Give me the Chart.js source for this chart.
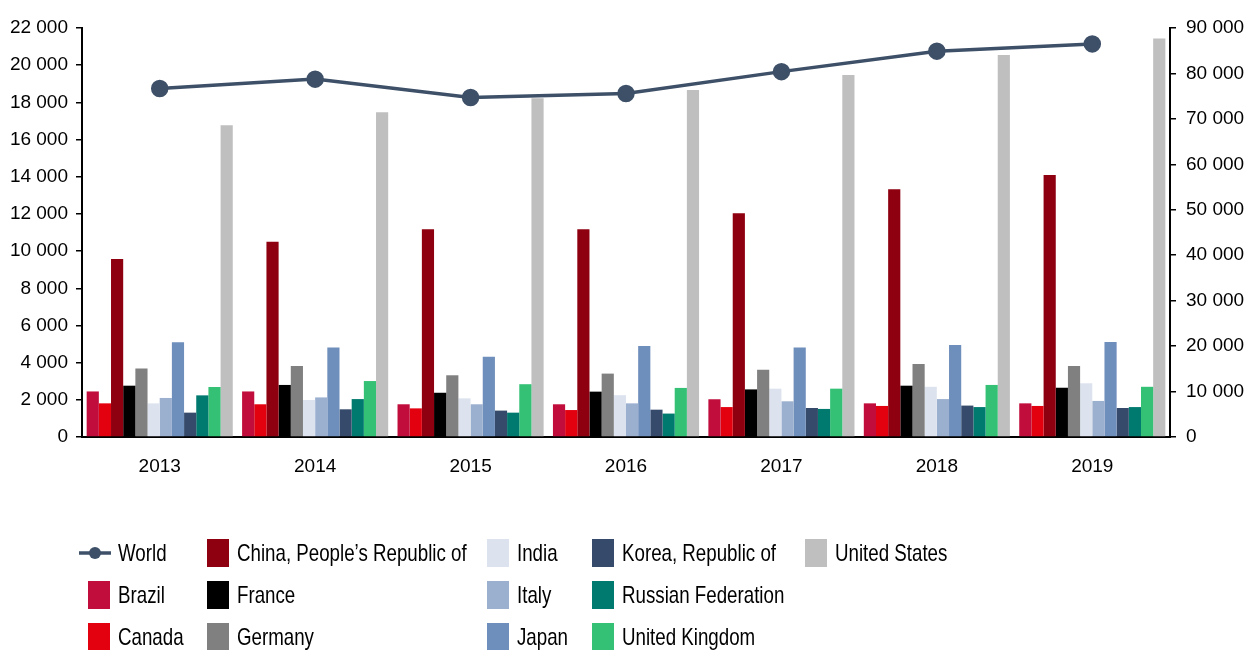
<!DOCTYPE html>
<html>
<head>
<meta charset="utf-8">
<script src="https://cdn.jsdelivr.net/npm/chart.js@4"></script>
<style>
  body { margin: 0; background: #fff; }
  #wrap { position: relative; width: 1246px; height: 650px; }
  #box { position: absolute; left: 0; top: 0; width: 1246px; height: 490px; }
  #legend { position: absolute; left: 0; top: 0; width: 1246px; height: 650px; pointer-events: none;
    font-family: 'Liberation Sans', Arial, sans-serif; font-size: 24px; color: #000; }
  .item { position: absolute; height: 30px; display: flex; align-items: center; white-space: nowrap; }
  .sw { width: 22px; height: 28px; margin-right: 8px; flex: none; }
  .txt { display: inline-block; transform: scaleX(0.78); transform-origin: left center; }
</style>
</head>
<body>
<div id="wrap">
  <div id="box"><canvas id="chart"></canvas></div>
  <div id="legend"></div>
</div>
<script>
(function() {
  'use strict';
  var years = ['2013', '2014', '2015', '2016', '2017', '2018', '2019'];

  // world total, right axis
  var world = [76700, 78750, 74700, 75600, 80400, 84900, 86500];

  var brazil  = [2450, 2450, 1760, 1760, 2030, 1810, 1810];
  var canada  = [1810, 1760, 1540, 1450, 1610, 1670, 1670];
  var china   = [9570, 10500, 11170, 11170, 12030, 13320, 14090];
  var france  = [2760, 2800, 2380, 2440, 2560, 2760, 2650];
  var germany = [3680, 3820, 3320, 3410, 3620, 3930, 3820];
  var india   = [1810, 1990, 2080, 2250, 2600, 2700, 2890];
  var italy   = [2100, 2130, 1760, 1810, 1920, 2040, 1940];
  var japan   = [5090, 4810, 4320, 4900, 4810, 4950, 5110];
  var korea   = [1310, 1490, 1420, 1470, 1560, 1690, 1560];
  var russia  = [2240, 2040, 1310, 1260, 1510, 1610, 1610];
  var uk      = [2690, 3010, 2840, 2640, 2600, 2800, 2700];
  var us      = [16770, 17470, 18220, 18670, 19470, 20550, 21430];

  var countries = [
    ['Brazil', brazil, '#C00D3C'],
    ['Canada', canada, '#E3000F'],
    ['China, People\u2019s Republic of', china, '#8E0010'],
    ['France', france, '#000000'],
    ['Germany', germany, '#808080'],
    ['India', india, '#DDE3EE'],
    ['Italy', italy, '#9BAFCF'],
    ['Japan', japan, '#6E8EBB'],
    ['Korea, Republic of', korea, '#364B6B'],
    ['Russian Federation', russia, '#007A6E'],
    ['United Kingdom', uk, '#35C175'],
    ['United States', us, '#BFBFBF']
  ];

  var lineColor = '#3D5068';

  var datasets = [{
    type: 'line',
    label: 'World',
    data: world,
    yAxisID: 'y2',
    borderColor: lineColor,
    backgroundColor: lineColor,
    borderWidth: 3.5,
    pointRadius: 7,
    pointHoverRadius: 7,
    order: 0
  }];
  countries.forEach(function(c) {
    datasets.push({
      type: 'bar',
      label: c[0],
      data: c[1],
      yAxisID: 'y',
      backgroundColor: c[2],
      borderWidth: 0,
      categoryPercentage: 0.94,
      barPercentage: 1,
      order: 1
    });
  });

  function spaced(v) {
    return String(v).replace(/\B(?=(\d{3})+(?!\d))/g, ' ');
  }

  Chart.defaults.font.family = "'Liberation Sans', Arial, sans-serif";
  Chart.defaults.font.size = 19;
  Chart.defaults.color = '#000';

  var chart = new Chart(document.getElementById('chart').getContext('2d'), {
    data: { labels: years, datasets: datasets },
    options: {
      responsive: true,
      maintainAspectRatio: false,
      animation: false,
      layout: { padding: { top: 28, left: 0, right: 0 } },
      plugins: { legend: { display: false }, tooltip: { enabled: false } },
      scales: {
        x: {
          offset: true,
          grid: { display: false },
          border: { color: '#000', width: 2 },
          ticks: { padding: 10 },
          afterFit: function(s) { s.height = 53; }
        },
        y: {
          position: 'left',
          min: 0, max: 22000,
          ticks: { stepSize: 2000, padding: 8, callback: spaced },
          grid: { drawOnChartArea: false, drawTicks: true, tickLength: 6, color: '#000', lineWidth: 1.5 },
          border: { color: '#000', width: 2 },
          afterFit: function(s) { s.width = 82; }
        },
        y2: {
          position: 'right',
          min: 0, max: 90000,
          ticks: { stepSize: 10000, padding: 10, callback: spaced },
          grid: { drawOnChartArea: false, drawTicks: true, tickLength: 6, color: '#000', lineWidth: 1.5 },
          border: { color: '#000', width: 2 },
          afterFit: function(s) { s.width = 76; }
        }
      }
    }
  });

  // html legend, column-major in 3 rows
  var colX = [78, 207, 487, 592, 805];
  var rowY = [538, 580, 622];
  var legend = document.getElementById('legend');
  chart.data.datasets.forEach(function(ds, i) {
    var col = Math.floor(i / 3), row = i % 3;
    var item = document.createElement('div');
    item.className = 'item';
    item.style.left = colX[col] + 'px';
    item.style.top = rowY[row] + 'px';
    if (ds.type === 'line') {
      item.innerHTML = '<svg width="34" height="20" style="margin-right:6px;flex:none"><line x1="1" y1="10" x2="33" y2="10" stroke="' +
        ds.borderColor + '" stroke-width="3.5"/><circle cx="17" cy="10" r="6" fill="' + ds.borderColor + '"/></svg>';
    } else {
      item.innerHTML = '<div class="sw" style="background:' + ds.backgroundColor + (col === 0 ? ';margin-left:10px' : '') + '"></div>';
    }
    var t = document.createElement('span');
    t.className = 'txt';
    t.textContent = ds.label;
    item.appendChild(t);
    legend.appendChild(item);
  });
})();
</script>
</body>
</html>
